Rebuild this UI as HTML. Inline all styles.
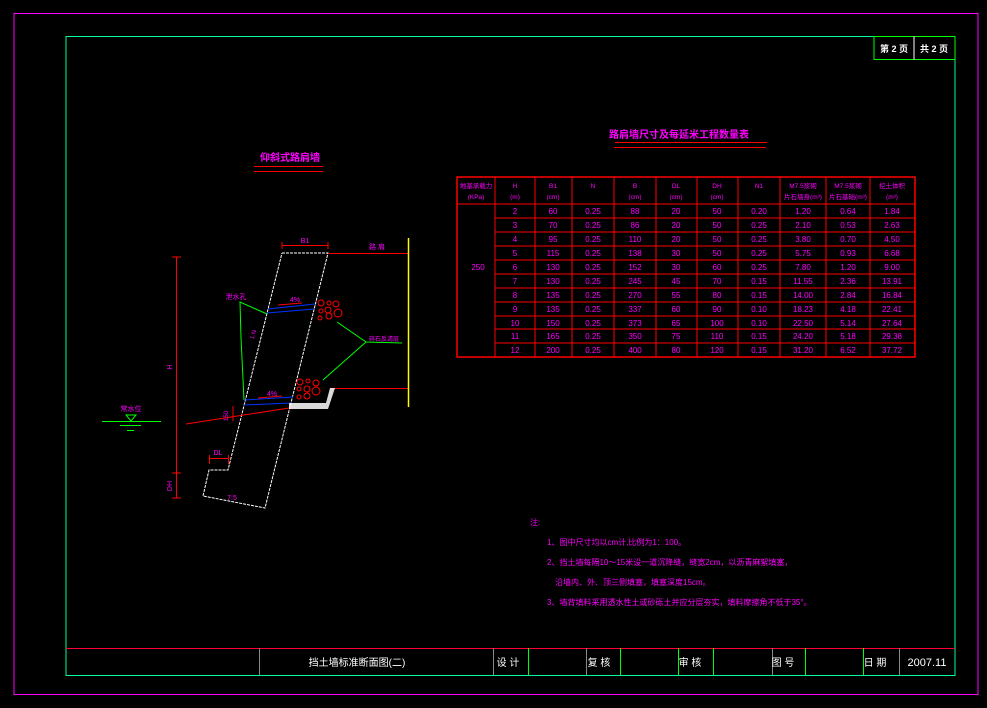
<!DOCTYPE html>
<html><head><meta charset="utf-8"><style>
html,body{margin:0;padding:0;background:#000;}
svg{display:block;}
text{font-family:"Liberation Sans","Noto Sans CJK SC",sans-serif;}
</style></head><body>
<svg width="987" height="708" viewBox="0 0 987 708" xmlns="http://www.w3.org/2000/svg">
<rect width="987" height="708" fill="#000"/>
<!-- frames -->
<rect x="14" y="13.5" width="964" height="681" fill="none" stroke="#ff00ff" stroke-width="1"/>
<rect x="66" y="36.5" width="889" height="639" fill="none" stroke="#00ff99" stroke-width="1"/>
<!-- top right page box -->
<rect x="874" y="36.5" width="81" height="23" fill="none" stroke="#00ff00" stroke-width="1"/>
<line x1="914" y1="36" x2="914" y2="60" stroke="#fff"/>
<text x="894" y="52" fill="#fff" font-size="9" text-anchor="middle" font-weight="bold">第 2 页</text>
<text x="934" y="52" fill="#fff" font-size="9" text-anchor="middle" font-weight="bold">共 2 页</text>

<!-- title block -->
<line x1="66" y1="648.5" x2="955" y2="648.5" stroke="#ff0033"/>
<g stroke="#888" stroke-width="1">
<line x1="259.5" y1="648" x2="259.5" y2="675"/>
<line x1="493.5" y1="648" x2="493.5" y2="675"/>
<line x1="586.5" y1="648" x2="586.5" y2="675"/>
<line x1="772.5" y1="648" x2="772.5" y2="675"/>
<line x1="899.5" y1="648" x2="899.5" y2="675"/>
</g>
<g stroke="#00ff00" stroke-width="1">
<line x1="528.5" y1="648" x2="528.5" y2="675"/>
<line x1="620.5" y1="648" x2="620.5" y2="675"/>
<line x1="678.5" y1="648" x2="678.5" y2="675"/>
<line x1="713.5" y1="648" x2="713.5" y2="675"/>
<line x1="805.5" y1="648" x2="805.5" y2="675"/>
<line x1="863.5" y1="648" x2="863.5" y2="675"/>
</g>
<g fill="#fff" font-size="10" text-anchor="middle">
<text x="357" y="666">挡土墙标准断面图(二)</text>
<text x="508" y="666">设 计</text>
<text x="599" y="666">复 核</text>
<text x="690" y="666">审 核</text>
<text x="783" y="666">图 号</text>
<text x="875" y="666">日 期</text>
<text x="927" y="666" font-size="11">2007.11</text>
</g>

<!-- table title -->
<text x="679" y="138" fill="#ff00ff" font-size="10" text-anchor="middle" font-weight="bold">路肩墙尺寸及每延米工程数量表</text>
<line x1="615" y1="142.5" x2="767" y2="142.5" stroke="#ff0000"/>
<line x1="614" y1="147.5" x2="766" y2="147.5" stroke="#ff0000"/>

<!-- table -->
<g stroke="#ff0000" stroke-width="1" fill="none">
<rect x="457" y="177" width="458" height="180" stroke-width="1.5"/>
<line x1="457" y1="204" x2="915" y2="204"/>
<line x1="495" y1="218" x2="915" y2="218"/>
<line x1="495" y1="232" x2="915" y2="232"/>
<line x1="495" y1="246" x2="915" y2="246"/>
<line x1="495" y1="260" x2="915" y2="260"/>
<line x1="495" y1="274" x2="915" y2="274"/>
<line x1="495" y1="288" x2="915" y2="288"/>
<line x1="495" y1="302" x2="915" y2="302"/>
<line x1="495" y1="316" x2="915" y2="316"/>
<line x1="495" y1="329" x2="915" y2="329"/>
<line x1="495" y1="343" x2="915" y2="343"/>
<line x1="495" y1="177" x2="495" y2="357"/>
<line x1="535" y1="177" x2="535" y2="357"/>
<line x1="572" y1="177" x2="572" y2="357"/>
<line x1="614" y1="177" x2="614" y2="357"/>
<line x1="656" y1="177" x2="656" y2="357"/>
<line x1="697" y1="177" x2="697" y2="357"/>
<line x1="738" y1="177" x2="738" y2="357"/>
<line x1="780" y1="177" x2="780" y2="357"/>
<line x1="826" y1="177" x2="826" y2="357"/>
<line x1="870" y1="177" x2="870" y2="357"/>
</g>
<g fill="#ff00ff" font-size="6.5" text-anchor="middle">
<text x="476" y="188">地基承载力</text><text x="476" y="199">(KPa)</text>
<text x="515" y="188">H</text><text x="515" y="199">(m)</text>
<text x="553" y="188">B1</text><text x="553" y="199">(cm)</text>
<text x="593" y="188">N</text>
<text x="635" y="188">B</text><text x="635" y="199">(cm)</text>
<text x="676" y="188">DL</text><text x="676" y="199">(cm)</text>
<text x="717" y="188">DH</text><text x="717" y="199">(cm)</text>
<text x="759" y="188">N1</text>
<text x="803" y="188">M7.5浆砌</text><text x="803" y="199">片石墙身(m³)</text>
<text x="848" y="188">M7.5浆砌</text><text x="848" y="199">片石基础(m³)</text>
<text x="892" y="188">挖土体积</text><text x="892" y="199">(m³)</text>
</g>
<g fill="#ff00ff" font-size="8" text-anchor="middle">
<text x="478" y="270">250</text>
</g>
<g fill="#ff00ff" font-size="8" text-anchor="middle" id="rows">
<g transform="translate(0,214)"><text x="515">2</text><text x="553">60</text><text x="593">0.25</text><text x="635">88</text><text x="676">20</text><text x="717">50</text><text x="759">0.20</text><text x="803">1.20</text><text x="848">0.64</text><text x="892">1.84</text></g>
<g transform="translate(0,228)"><text x="515">3</text><text x="553">70</text><text x="593">0.25</text><text x="635">86</text><text x="676">20</text><text x="717">50</text><text x="759">0.25</text><text x="803">2.10</text><text x="848">0.53</text><text x="892">2.63</text></g>
<g transform="translate(0,242)"><text x="515">4</text><text x="553">95</text><text x="593">0.25</text><text x="635">110</text><text x="676">20</text><text x="717">50</text><text x="759">0.25</text><text x="803">3.80</text><text x="848">0.70</text><text x="892">4.50</text></g>
<g transform="translate(0,256)"><text x="515">5</text><text x="553">115</text><text x="593">0.25</text><text x="635">138</text><text x="676">30</text><text x="717">50</text><text x="759">0.25</text><text x="803">5.75</text><text x="848">0.93</text><text x="892">6.68</text></g>
<g transform="translate(0,270)"><text x="515">6</text><text x="553">130</text><text x="593">0.25</text><text x="635">152</text><text x="676">30</text><text x="717">60</text><text x="759">0.25</text><text x="803">7.80</text><text x="848">1.20</text><text x="892">9.00</text></g>
<g transform="translate(0,284)"><text x="515">7</text><text x="553">130</text><text x="593">0.25</text><text x="635">245</text><text x="676">45</text><text x="717">70</text><text x="759">0.15</text><text x="803">11.55</text><text x="848">2.36</text><text x="892">13.91</text></g>
<g transform="translate(0,298)"><text x="515">8</text><text x="553">135</text><text x="593">0.25</text><text x="635">270</text><text x="676">55</text><text x="717">80</text><text x="759">0.15</text><text x="803">14.00</text><text x="848">2.84</text><text x="892">16.84</text></g>
<g transform="translate(0,312)"><text x="515">9</text><text x="553">135</text><text x="593">0.25</text><text x="635">337</text><text x="676">60</text><text x="717">90</text><text x="759">0.10</text><text x="803">18.23</text><text x="848">4.18</text><text x="892">22.41</text></g>
<g transform="translate(0,326)"><text x="515">10</text><text x="553">150</text><text x="593">0.25</text><text x="635">373</text><text x="676">65</text><text x="717">100</text><text x="759">0.10</text><text x="803">22.50</text><text x="848">5.14</text><text x="892">27.64</text></g>
<g transform="translate(0,339)"><text x="515">11</text><text x="553">165</text><text x="593">0.25</text><text x="635">350</text><text x="676">75</text><text x="717">110</text><text x="759">0.15</text><text x="803">24.20</text><text x="848">5.18</text><text x="892">29.38</text></g>
<g transform="translate(0,353)"><text x="515">12</text><text x="553">200</text><text x="593">0.25</text><text x="635">400</text><text x="676">80</text><text x="717">120</text><text x="759">0.15</text><text x="803">31.20</text><text x="848">6.52</text><text x="892">37.72</text></g>
</g>

<!-- diagram title -->
<text x="290" y="161" fill="#ff00ff" font-size="10" text-anchor="middle" font-weight="bold">仰斜式路肩墙</text>
<line x1="254" y1="166.5" x2="323" y2="166.5" stroke="#ff0000"/>
<line x1="254" y1="171.5" x2="323" y2="171.5" stroke="#ff0000"/>

<!-- wall outline -->
<polyline points="282,253 328,253 265,508 203,496 209,470 228,470 282,253" fill="none" stroke="#fff" stroke-width="1" stroke-dasharray="3,1"/>
<!-- top / ground lines -->
<line x1="328" y1="253.5" x2="408" y2="253.5" stroke="#ff0000"/>
<line x1="330" y1="388.5" x2="408" y2="388.5" stroke="#ff0000"/>
<line x1="408.5" y1="238" x2="408.5" y2="407" stroke="#ffff00" stroke-width="1.5"/>
<!-- B1 dim -->
<line x1="282" y1="245.5" x2="328" y2="245.5" stroke="#ff0000"/>
<line x1="282" y1="242" x2="282" y2="249" stroke="#ff0000"/>
<line x1="328" y1="242" x2="328" y2="249" stroke="#ff0000"/>
<text x="305" y="243" fill="#ff00ff" font-size="7" text-anchor="middle">B1</text>
<text x="377" y="249" fill="#ff00ff" font-size="7" text-anchor="middle">路 肩</text>
<!-- H dim -->
<line x1="176.5" y1="257" x2="176.5" y2="498" stroke="#ff0000"/>
<line x1="172" y1="257" x2="181" y2="257" stroke="#ff0000"/>
<line x1="172" y1="473" x2="181" y2="473" stroke="#ff0000"/>
<line x1="172" y1="498" x2="181" y2="498" stroke="#ff0000"/>
<text x="172" y="367" fill="#ff00ff" font-size="7" transform="rotate(-90 172 367)" text-anchor="middle">H</text>
<text x="172" y="486" fill="#ff00ff" font-size="7" transform="rotate(-90 172 486)" text-anchor="middle">DH</text>
<!-- DL dim -->
<line x1="209" y1="458.5" x2="228" y2="458.5" stroke="#ff0000"/>
<line x1="209.5" y1="455" x2="209.5" y2="464" stroke="#ff0000"/>
<line x1="228.5" y1="455" x2="228.5" y2="464" stroke="#ff0000"/>
<text x="218" y="455" fill="#ff00ff" font-size="7" text-anchor="middle">DL</text>
<text x="232" y="500" fill="#ff00ff" font-size="7" text-anchor="middle">7:5</text>
<!-- drain pipes -->
<g stroke="#0033ff" stroke-width="1">
<line x1="268" y1="309" x2="315" y2="304"/>
<line x1="267" y1="313" x2="314" y2="309"/>
<line x1="244" y1="400" x2="293" y2="397"/>
<line x1="244" y1="405" x2="291" y2="403"/>
</g>
<g stroke="#ff0000" stroke-width="1">
<line x1="278" y1="305" x2="302" y2="303"/>
<line x1="258" y1="398" x2="282" y2="396"/>
<line x1="186" y1="424" x2="289" y2="408"/>
<line x1="233" y1="406" x2="233" y2="421"/>
</g>
<text x="295" y="302" fill="#ff00ff" font-size="7" text-anchor="middle">4%</text>
<text x="272" y="396" fill="#ff00ff" font-size="7" text-anchor="middle">4%</text>
<text x="228" y="416" fill="#ff00ff" font-size="6" transform="rotate(-90 228 416)" text-anchor="middle">150</text>
<text x="255" y="335" fill="#ff00ff" font-size="6" transform="rotate(-75 255 335)" text-anchor="middle">1:N</text>
<!-- base hatch -->
<path d="M289,403 L326,403 L330,388 L335,388 L328,409 L289,409 Z" fill="#fff" opacity="0.85"/>
<!-- stones -->
<g fill="none" stroke="#ff0000" stroke-width="1">
<circle cx="321" cy="303" r="3"/><circle cx="329" cy="303" r="2"/><circle cx="336" cy="304" r="3"/>
<circle cx="321" cy="311" r="2"/><circle cx="328" cy="310" r="3"/><circle cx="338" cy="313" r="4"/>
<circle cx="320" cy="318" r="2"/><circle cx="329" cy="316" r="3"/>
<circle cx="300" cy="382" r="3"/><circle cx="308" cy="381" r="2"/><circle cx="316" cy="383" r="3"/>
<circle cx="299" cy="389" r="2"/><circle cx="307" cy="389" r="3"/><circle cx="316" cy="391" r="4"/>
<circle cx="299" cy="397" r="2"/><circle cx="307" cy="396" r="3"/>
</g>
<!-- green leaders -->
<g stroke="#00ff00" stroke-width="1" fill="none">
<polyline points="267,314 240,302 241,338 244,400"/>
<polyline points="337,322 366,342 402,343"/>
<polyline points="323,380 366,342"/>
<line x1="102" y1="421.5" x2="161" y2="421.5"/>
<line x1="120" y1="425.5" x2="141" y2="425.5"/>
<line x1="127" y1="430.5" x2="134" y2="430.5"/>
</g>
<path d="M126,415 L136,415 L131,421 Z" fill="none" stroke="#00ff00"/>
<text x="236" y="299" fill="#ff00ff" font-size="7" text-anchor="middle">泄水孔</text>
<text x="384" y="341" fill="#ff00ff" font-size="6" text-anchor="middle">碎石反滤层</text>
<text x="131" y="411" fill="#ff00ff" font-size="7" text-anchor="middle">常水位</text>

<!-- notes -->
<g fill="#ff00ff" font-size="8">
<text x="530" y="525">注:</text>
<text x="547" y="545">1、图中尺寸均以cm计,比例为1：100。</text>
<text x="547" y="565">2、挡土墙每隔10～15米设一道沉降缝，缝宽2cm，以沥青麻絮填塞，</text>
<text x="555" y="585">沿墙内、外、顶三侧填塞，填塞深度15cm。</text>
<text x="547" y="605">3、墙背填料采用透水性土或砂砾土并应分层夯实，填料摩擦角不低于35°。</text>
</g>
</svg>
</body></html>
